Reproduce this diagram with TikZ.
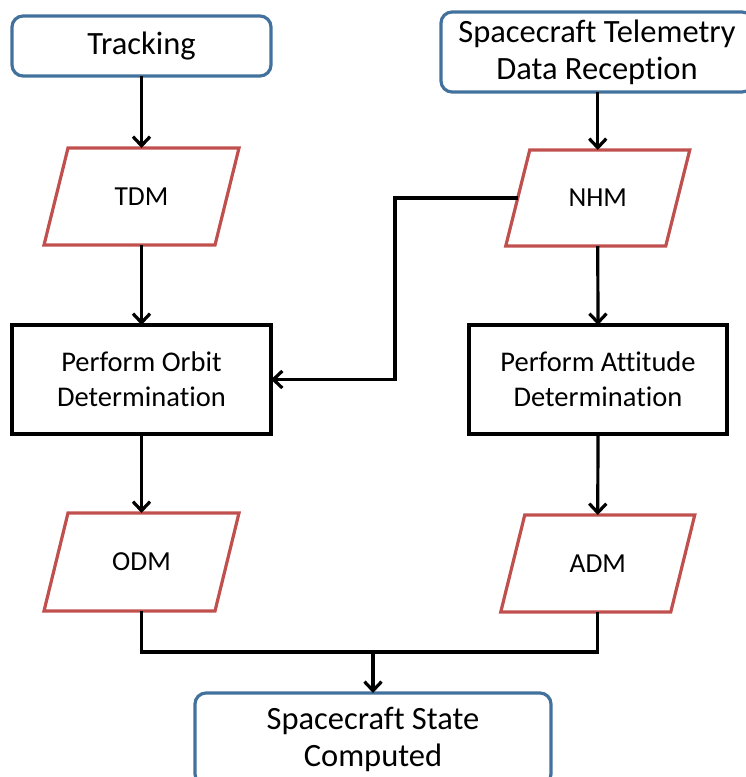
\documentclass[tikz,border=0pt]{standalone}
\usepackage{fontspec}
\setmainfont{Carlito}[Ligatures=NoCommon]
\usetikzlibrary{arrows.meta}
\definecolor{termblue}{HTML}{41719C}
\definecolor{datared}{HTML}{C0504D}
\begin{document}
\begin{tikzpicture}[x=1pt,y=-1pt,
  terminal/.style={draw=termblue,line width=3.2pt,rounded corners=11pt,align=center,
    inner sep=0pt,outer sep=0pt,font=\fontsize{32.5}{37}\selectfont},
  process/.style={draw=black,line width=3.2pt,align=center,inner sep=0pt,outer sep=0pt,
    font=\fontsize{28.5}{35}\selectfont},
  datanode/.style={inner sep=0pt,outer sep=0pt,minimum height=97pt,
    font=\fontsize{27.5}{30}\selectfont},
  flow/.style={line width=3.2pt,-{Straight Barb[length=9pt,width=17pt,line width=3.2pt]}},
  plain/.style={line width=3.2pt},
  dataline/.style={draw=datared,line width=3.2pt,line join=miter}]
\useasboundingbox (0,0) rectangle (746,777);
\clip (0,0) rectangle (746,777);

% start and end terminals
\node[terminal,minimum width=259pt,minimum height=60pt] (track) at (141.5,46) {Tracking};
\node[terminal,minimum width=312pt,minimum height=80pt] (telem) at (597,52)
  {Spacecraft Telemetry\\Data Reception};
\node[terminal,minimum width=356pt,minimum height=92pt] (state) at (373,739)
  {Spacecraft State\\Computed};

% data products (parallelograms drawn below)
\node[datanode,minimum width=171pt] (tdm) at (141.5,196.5) {TDM};
\node[datanode,minimum width=160pt,minimum height=96pt] (nhm) at (597.75,198) {NHM};
\node[datanode,minimum width=171pt,minimum height=98pt] (odm) at (141.5,562) {ODM};
\node[datanode,minimum width=170pt] (adm) at (597.75,563.5) {ADM};
\foreach \n in {tdm,nhm,odm,adm}
  \draw[dataline] ([xshift=-12pt]\n.south west) -- ([xshift=-12pt]\n.south east)
    -- ([xshift=12pt]\n.north east) -- ([xshift=12pt]\n.north west) -- cycle;

% processing steps
\node[process,minimum width=259pt,minimum height=109pt] (orbit) at (141.5,379.5)
  {Perform Orbit\\Determination};
\node[process,minimum width=258pt,minimum height=109pt] (att) at (598,379.5)
  {Perform Attitude\\Determination};

% connectors
\draw[flow] (track.south) -- (tdm.north);
\draw[flow] (telem.south -| nhm.north) -- (nhm.north);
\draw[flow] (tdm.south) -- (orbit.north);
\draw[flow] (nhm.south) -- (att.north);
\draw[flow] (orbit.south) -- (odm.north);
\draw[flow] (att.south) -- (adm.north);
\coordinate (bend) at (395,0);
\draw[flow] (nhm.west) -- (nhm.west -| bend) -- (orbit.east -| bend) -- (orbit.east);
\coordinate (merge) at (373,652);
\draw[plain] (odm.south) -- (odm.south |- merge) -- (adm.south |- merge) -- (adm.south);
\draw[flow] (merge) -- (state.north);
\end{tikzpicture}
\end{document}
